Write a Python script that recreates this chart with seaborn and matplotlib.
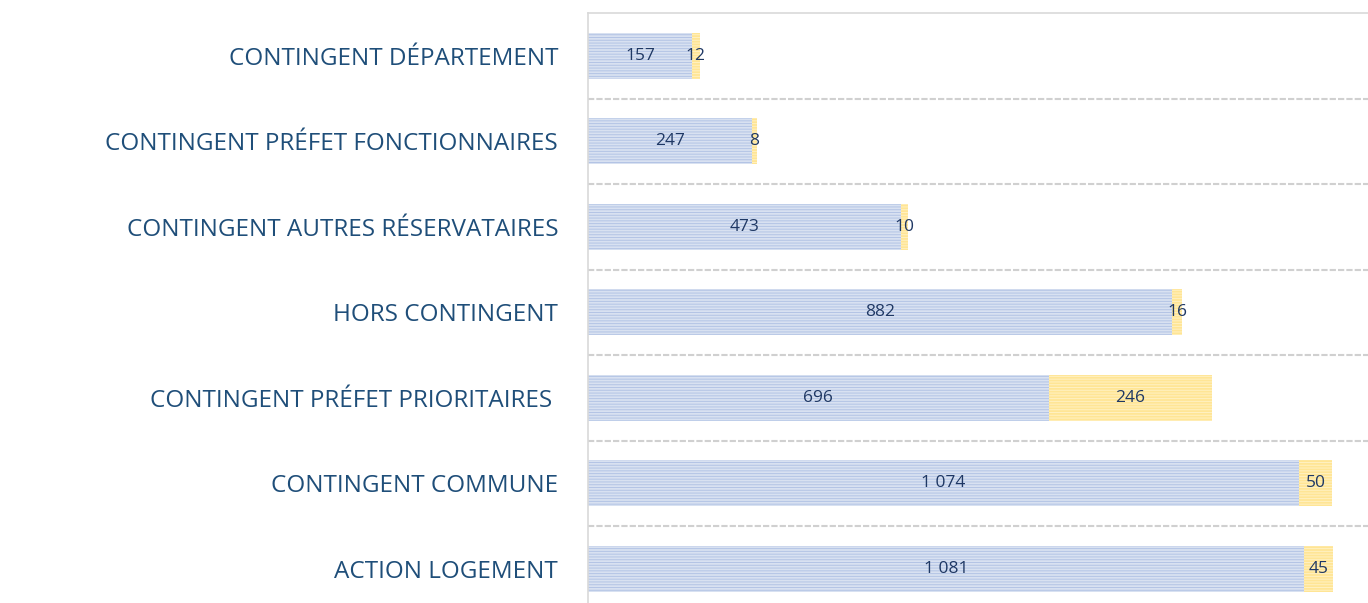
import matplotlib
matplotlib.use("Agg")
import matplotlib.pyplot as plt
import seaborn as sns
import pandas as pd

categories = [
    "CONTINGENT DÉPARTEMENT",
    "CONTINGENT PRÉFET FONCTIONNAIRES",
    "CONTINGENT AUTRES RÉSERVATAIRES",
    "HORS CONTINGENT",
    "CONTINGENT PRÉFET PRIORITAIRES ",
    "CONTINGENT COMMUNE",
    "ACTION LOGEMENT",
]
blue_values = [157, 247, 473, 882, 696, 1074, 1081]
yellow_values = [12, 8, 10, 16, 246, 50, 45]

df = pd.DataFrame({"categorie": categories, "bleu": blue_values, "jaune": yellow_values})
df["total"] = df["bleu"] + df["jaune"]

sns.set_theme(style="white")
plt.rcParams["font.family"] = ["Open Sans", "DejaVu Sans"]
plt.rcParams["hatch.linewidth"] = 0.7

W, H = 1368, 603
fig = plt.figure(figsize=(W / 100, H / 100), dpi=100)
row = 85.5
ax_top = 13
ax_h = row * len(categories)
ax = fig.add_axes([588 / W, 1 - (ax_top + ax_h) / H, (W - 588) / W, ax_h / H])

bar_h = 0.54
# Totals in yellow first, blue share drawn on top
sns.barplot(data=df, y="categorie", x="total", orient="h", color="#ffe595",
            width=bar_h, ax=ax, hatch="------", edgecolor="#fff1c2", linewidth=0,
            saturation=1)
sns.barplot(data=df, y="categorie", x="bleu", orient="h", color="#d8e1f1",
            width=bar_h, ax=ax, hatch="------", edgecolor="#b3c4e5", linewidth=0,
            saturation=1)

ax.set_xlim(0, (W - 588) / 0.662)
ax.set_ylim(len(categories) - 0.5, -0.5)
ax.set_xlabel("")
ax.set_ylabel("")
ax.set_xticks([])

for i in range(1, len(categories)):
    ax.axhline(i - 0.5, color="#d0d0d0", lw=1.5, ls=(0, (3, 1)), zorder=0)

for s in ["right", "bottom"]:
    ax.spines[s].set_visible(False)
for s in ["left", "top"]:
    ax.spines[s].set_color("#d9d9d9")
    ax.spines[s].set_linewidth(1.2)

ax.set_yticks(range(len(categories)))
ax.set_yticklabels(categories, color="#1f4e79", fontsize=17.5)
ax.tick_params(axis="y", length=0, pad=21.5)


def fmt(v):
    return f"{v:,}".replace(",", " ")


for i, (b, j) in enumerate(zip(blue_values, yellow_values)):
    ax.text(b / 2, i, fmt(b), ha="center", va="center", color="#1f3864", fontsize=12.5)
    ax.text(b + j / 2, i, fmt(j), ha="center", va="center", color="#1f3864", fontsize=12.5)

fig.savefig("out.png", dpi=100)
